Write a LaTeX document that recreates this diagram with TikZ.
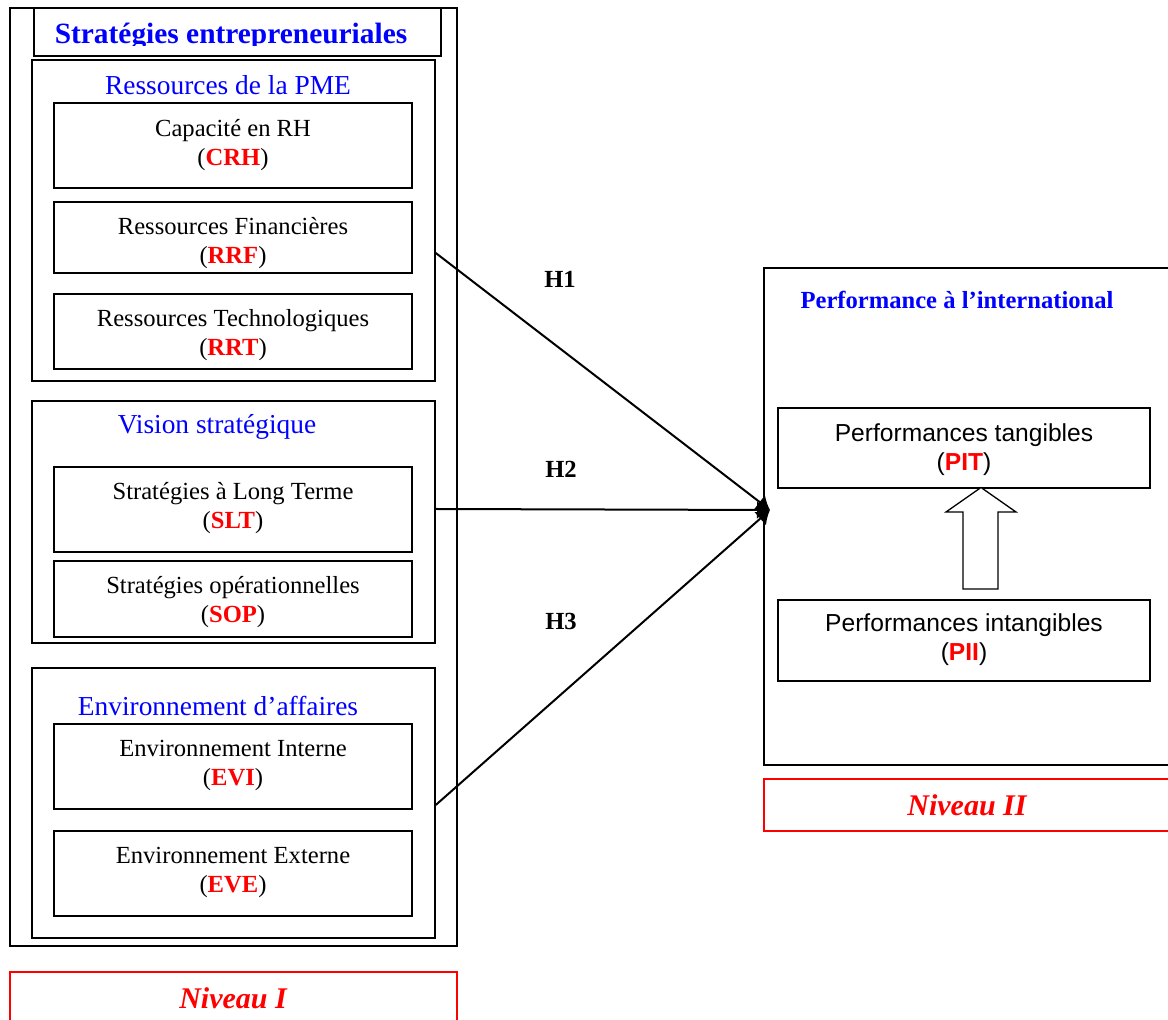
\documentclass[tikz,border=0pt]{standalone}
\usepackage{fontspec}
\setmainfont{Liberation Serif}
\newfontfamily\arialf{Liberation Sans}
\usetikzlibrary{fit,arrows.meta}
\definecolor{pblue}{RGB}{0,0,255}
\definecolor{pred}{RGB}{255,0,0}
\tikzset{
  frame/.style={draw, line width=0.75pt, inner sep=0pt},
  itembox/.style={draw, line width=0.7pt, inner sep=0pt},
  itemtext/.style={inner sep=0pt, align=center, font=\fontsize{12.3}{14.5}\selectfont},
  sanstext/.style={inner sep=0pt, align=center, font=\fontsize{12.3}{14.5}\selectfont\arialf},
  grouplabel/.style={text=pblue, font=\fontsize{13.7}{16}\selectfont, inner sep=0pt},
  redbox/.style={draw=pred, line width=0.8pt, inner sep=0pt},
  niv/.style={text=pred, font=\fontsize{15}{18}\selectfont\bfseries\itshape, inner sep=0pt},
  hlab/.style={font=\fontsize{12.3}{14}\selectfont\bfseries, inner sep=0pt},
  conn/.style={line width=1pt, -{Latex[length=6.5pt,width=9pt]}},
}
\newcommand{\codeR}[1]{(\textcolor{pred}{\textbf{#1}})}
\begin{document}
\begin{tikzpicture}[x=0.5pt,y=-0.5pt]
\clip (0,0) rectangle (1168,1020);
\fill[white] (0,0) rectangle (1168,1020);

% left outer frame
\node[frame, fit={(10,8) (457,946)}] (outer) {};
\node[frame, fit={(34,8) (441,56)}] (titlebox) {};
\begin{scope}
\clip (34,8) rectangle (441,45.5);
\node[text=pblue, font=\fontsize{14.7}{17}\selectfont\bfseries, anchor=base, inner sep=0pt] (title) at (231,44) {Stratégies entrepreneuriales};
\end{scope}

% group 1
\node[frame, fit={(32,60) (435,381)}] (g1) {};
\node[grouplabel] (g1lab) at (228,85) {Ressources de la PME};
\node[itembox, fit={(54,103) (412,188)}] (crh) {};
\node[itemtext] (crht) at (233,145) {Capacité en RH\\\codeR{CRH}};
\node[itembox, fit={(54,202) (412,273)}] (rrf) {};
\node[itemtext] (rrft) at (233,243) {Ressources Financières\\\codeR{RRF}};
\node[itembox, fit={(54,294) (412,369)}] (rrt) {};
\node[itemtext] (rrtt) at (233,335) {Ressources Technologiques\\\codeR{RRT}};

% group 2
\node[frame, fit={(32,401) (435,643)}] (g2) {};
\node[grouplabel] (g2lab) at (217,427) {Vision stratégique};
\node[itembox, fit={(54,467) (412,552)}] (slt) {};
\node[itemtext] (sltt) at (233,508) {Stratégies à Long Terme\\\codeR{SLT}};
\node[itembox, fit={(54,561) (412,637)}] (sop) {};
\node[itemtext] (sopt) at (233,602) {Stratégies opérationnelles\\\codeR{SOP}};

% group 3
\node[frame, fit={(32,668) (435,938)}] (g3) {};
\node[grouplabel] (g3lab) at (218,706) {Environnement d’affaires};
\node[itembox, fit={(54,724) (412,809)}] (evi) {};
\node[itemtext] (evit) at (233,765) {Environnement Interne\\\codeR{EVI}};
\node[itembox, fit={(54,831) (412,916)}] (eve) {};
\node[itemtext] (evet) at (233,872) {Environnement Externe\\\codeR{EVE}};

% Niveau I
\node[redbox, fit={(10,972) (457,1030)}] (niv1box) {};
\node[niv] (niv1) at (233,998) {Niveau I};

% right frame
\node[frame, fit={(764,268) (1180,765)}] (perf) {};
\node[text=pblue, font=\fontsize{12.3}{14}\selectfont\bfseries, inner sep=0pt] (perflab) at (957,300) {Performance à l’international};
\node[itembox, fit={(778,408) (1150,488)}] (pit) {};
\node[sanstext] (pitt) at (964,450) {Performances tangibles\\(\textcolor{pred}{\textbf{PIT}})};
\node[itembox, fit={(778,600) (1150,681)}] (pii) {};
\node[sanstext] (piit) at (964,640) {Performances intangibles\\(\textcolor{pred}{\textbf{PII}})};
\draw[line width=0.65pt, fill=white] (963,589) -- (963,512) -- (946,512) -- (981,487.5) -- (1016,512) -- (998,512) -- (998,589) -- cycle;

% Niveau II
\node[redbox, fit={(764,779) (1180,831)}] (niv2box) {};
\node[niv] (niv2) at (967,805) {Niveau II};

% connectors
\coordinate (s1) at (g1.east |- 0,253);
\coordinate (s2) at (g2.east |- 0,509);
\coordinate (s3) at (g3.east |- 0,805);
\coordinate (conv) at (770,510);
\draw[conn] (s1) -- (conv);
\draw[conn] (s2) -- (conv);
\draw[conn] (s3) -- (conv);
\node[hlab] (h1) at (560,279) {H1};
\node[hlab] (h2) at (561,469) {H2};
\node[hlab] (h3) at (561,621) {H3};
\end{tikzpicture}
\end{document}
